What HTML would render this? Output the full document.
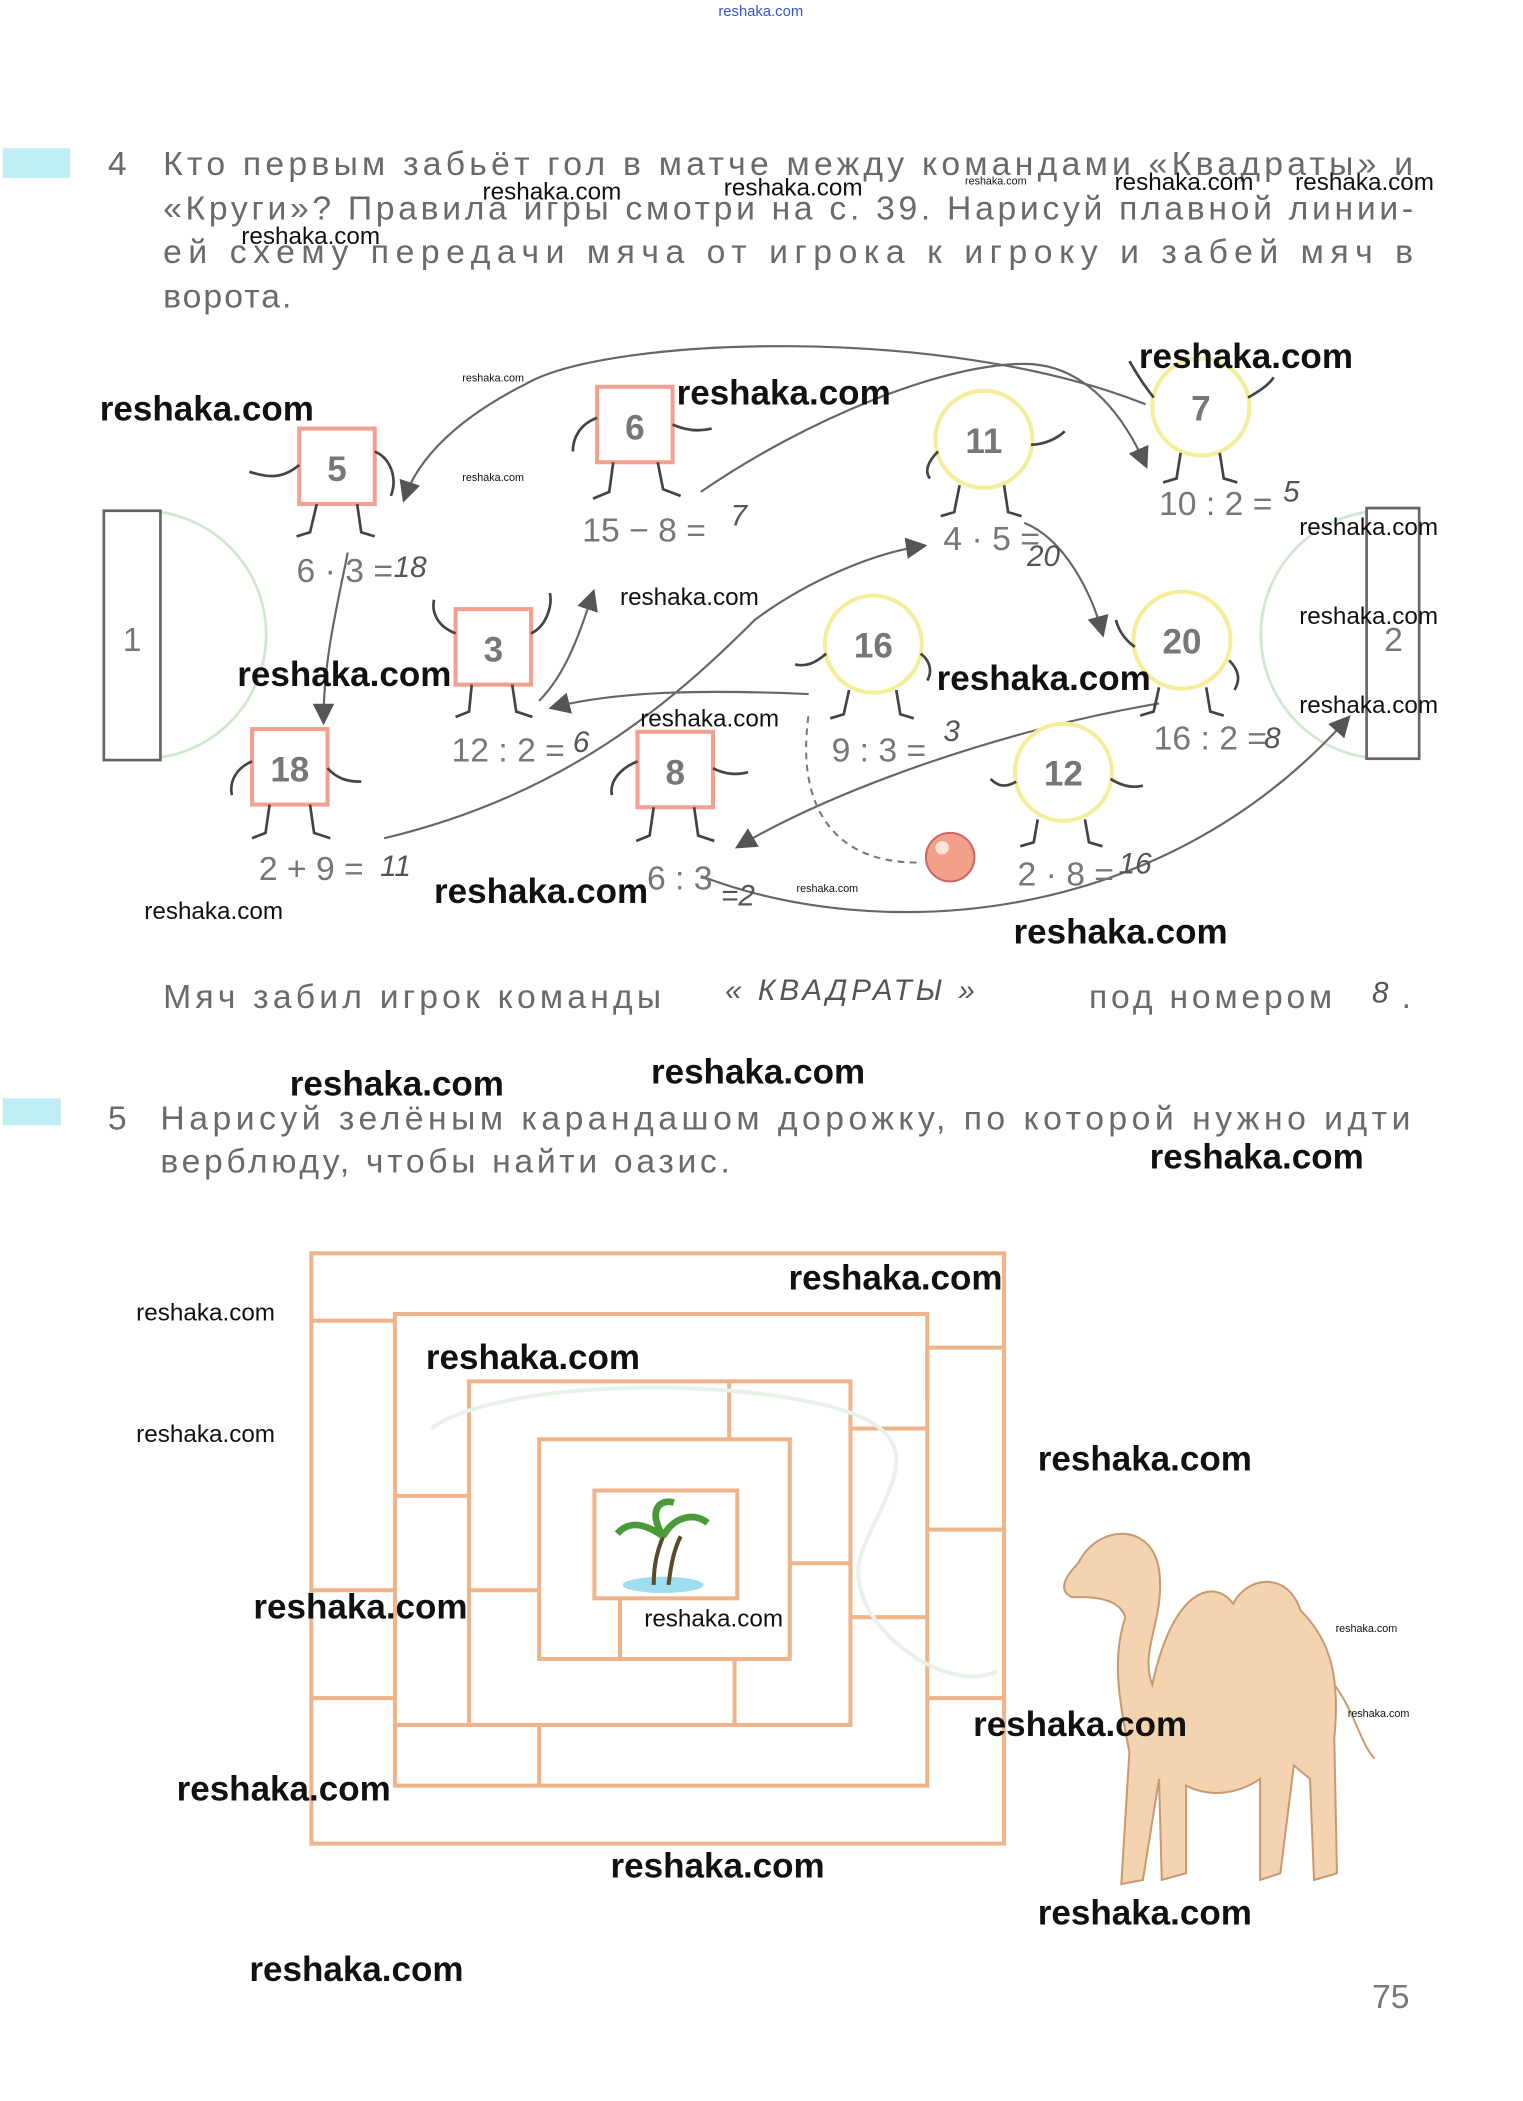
<!DOCTYPE html>
<html><head><meta charset="utf-8"><style>
html,body{margin:0;padding:0;background:#fff;}
svg{display:block;}
.t{font-family:"Liberation Sans",sans-serif;fill:#6a6a6a;font-size:25px;letter-spacing:1.5px;}
.w{font-family:"Liberation Sans",sans-serif;fill:#111;font-weight:bold;font-size:26px;}
.ws{font-family:"Liberation Sans",sans-serif;fill:#111;font-size:18px;}
.wt{font-family:"Liberation Sans",sans-serif;fill:#111;font-size:8px;}
.n{font-family:"Liberation Sans",sans-serif;fill:#777;font-size:26px;font-weight:bold;text-anchor:middle;}
.e{font-family:"Liberation Sans",sans-serif;fill:#777;font-size:25px;}
.h{font-family:"Liberation Sans",sans-serif;fill:#555;font-size:22px;font-style:italic;}
.sq{fill:#fff;stroke:#f2a090;stroke-width:3;}
.ci{fill:#fff;stroke:#f4ee9a;stroke-width:3;}
.a{fill:none;stroke:#666;stroke-width:1.6;}
.leg{fill:none;stroke:#444;stroke-width:2;}
.mz{fill:none;stroke:#f0b48a;stroke-width:3;}
</style></head><body>
<svg width="1523" height="2101" viewBox="0 0 1130 1559" xmlns="http://www.w3.org/2000/svg">
<defs><marker id="ar" markerWidth="10" markerHeight="10" refX="8" refY="5" orient="auto"><path d="M0,0 L10,5 L0,10 z" fill="#555"/></marker></defs>
<text x="533" y="12" font-family="Liberation Sans" font-size="11" fill="#3355cc">reshaka.com</text>
<rect x="2" y="110" width="50" height="22" fill="#bfeff5"/>
<text x="80" y="130" class="t" fill="#9dd">4</text>
<text x="121" y="130" class="t" textLength="929" lengthAdjust="spacing">Кто первым забьёт гол в матче между командами «Квадраты» и</text>
<text x="121" y="163" class="t" textLength="929" lengthAdjust="spacing">«Круги»? Правила игры смотри на с. 39. Нарисуй плавной линии-</text>
<text x="121" y="195" class="t" textLength="929" lengthAdjust="spacing">ей схему передачи мяча от игрока к игроку и забей мяч в</text>
<text x="121" y="228" class="t">ворота.</text>
<!-- goals -->
<path d="M119,380 A92,92 0 0 1 119,562" fill="none" stroke="#cfe8cf" stroke-width="2"/>
<rect x="77" y="379" width="42" height="185" fill="#fff" stroke="#666" stroke-width="2"/>
<text x="98" y="483" class="e" text-anchor="middle">1</text>
<path d="M1014,380 A92,92 0 0 0 1014,562" fill="none" stroke="#cfe8cf" stroke-width="2"/>
<rect x="1014" y="377" width="39" height="186" fill="#fff" stroke="#666" stroke-width="2"/>
<text x="1034" y="483" class="e" text-anchor="middle">2</text>
<!-- arrows -->
<path class="a" d="M520,365 C600,310 700,270 760,270 C800,270 830,300 850,345" marker-end="url(#ar)"/>
<path class="a" d="M850,300 C700,240 450,250 390,285 C340,310 310,340 300,370" marker-end="url(#ar)"/>
<path class="a" d="M258,410 C250,450 240,490 240,535" marker-end="url(#ar)"/>
<path class="a" d="M285,622 C420,590 500,520 560,460 C600,430 650,410 685,405" marker-end="url(#ar)"/>
<path class="a" d="M760,388 C790,400 810,440 818,470" marker-end="url(#ar)"/>
<path class="a" d="M600,515 C530,512 460,512 410,525" marker-end="url(#ar)"/>
<path class="a" d="M400,520 C420,500 430,470 440,440" marker-end="url(#ar)"/>
<path class="a" d="M860,522 C750,540 620,585 548,628" marker-end="url(#ar)"/>
<path class="a" d="M520,650 C650,700 860,690 1000,533" marker-end="url(#ar)"/>
<path d="M680,640 C620,640 590,600 600,530" fill="none" stroke="#777" stroke-width="1.5" stroke-dasharray="5,4"/>
<circle cx="705" cy="636" r="18" fill="#f3a08a" stroke="#c66" stroke-width="1.5"/>
<circle cx="699" cy="629" r="5" fill="#fff" opacity=".7"/>
<!-- squares -->
<g>
<rect class="sq" x="222" y="318" width="56" height="56"/><text x="250" y="357" class="n">5</text>
<path class="leg" d="M222,345 C210,355 200,355 185,350 M278,335 C290,340 295,355 290,368 M235,374 L230,395 L220,398 M265,374 L268,395 L278,398"/>
<text x="220" y="432" class="e">6 · 3 =</text><text x="292" y="428" class="h">18</text>
<rect class="sq" x="443" y="287" width="56" height="56"/><text x="471" y="326" class="n">6</text>
<path class="leg" d="M443,310 C430,315 425,325 425,335 M499,315 C510,320 520,320 528,318 M455,343 L452,365 L440,370 M488,343 L492,363 L505,368"/>
<text x="432" y="402" class="e">15 − 8 =</text><text x="542" y="390" class="h">7</text>
<rect class="sq" x="338" y="452" width="56" height="56"/><text x="366" y="491" class="n">3</text>
<path class="leg" d="M338,470 C325,465 320,455 322,445 M394,470 C405,465 410,450 408,440 M350,508 L348,528 L338,532 M380,508 L383,528 L395,532"/>
<text x="335" y="565" class="e">12 : 2 =</text><text x="425" y="558" class="h">6</text>
<rect class="sq" x="187" y="541" width="56" height="56"/><text x="215" y="580" class="n">18</text>
<path class="leg" d="M187,565 C175,570 170,580 172,590 M243,570 C250,578 258,580 268,580 M200,597 L197,618 L187,622 M230,597 L233,618 L245,622"/>
<text x="192" y="653" class="e">2 + 9 =</text><text x="282" y="650" class="h">11</text>
<rect class="sq" x="473" y="543" width="56" height="56"/><text x="501" y="582" class="n">8</text>
<path class="leg" d="M473,565 C460,570 452,580 454,590 M529,570 C538,575 548,575 555,573 M485,599 L482,620 L472,624 M515,599 L518,620 L530,624"/>
<text x="480" y="660" class="e">6 : 3</text><text x="535" y="672" class="h">=2</text>
</g>
<!-- circles -->
<g>
<circle class="ci" cx="730" cy="326" r="36"/><text x="730" y="336" class="n">11</text>
<path class="leg" d="M696,335 C688,343 686,350 690,355 M765,330 C775,330 785,325 790,320 M712,360 L708,380 L698,383 M745,360 L748,380 L758,383"/>
<text x="700" y="408" class="e">4 · 5 =</text><text x="762" y="420" class="h">20</text>
<circle class="ci" cx="891" cy="302" r="36"/><text x="891" y="312" class="n">7</text>
<path class="leg" d="M856,295 C848,285 842,275 838,268 M926,295 C935,290 942,285 945,280 M876,336 L873,355 L863,358 M905,336 L908,355 L918,358"/>
<text x="860" y="382" class="e">10 : 2 =</text><text x="952" y="372" class="h">5</text>
<circle class="ci" cx="648" cy="478" r="36"/><text x="648" y="488" class="n">16</text>
<path class="leg" d="M613,485 C605,492 598,495 590,493 M683,485 C690,490 692,498 688,505 M630,512 L626,530 L616,533 M665,512 L668,530 L678,533"/>
<text x="617" y="565" class="e">9 : 3 =</text><text x="700" y="550" class="h">3</text>
<circle class="ci" cx="877" cy="475" r="36"/><text x="877" y="485" class="n">20</text>
<path class="leg" d="M842,480 C835,475 830,468 828,460 M912,490 C920,498 920,505 916,512 M860,510 L856,528 L846,531 M895,510 L898,528 L908,531"/>
<text x="856" y="556" class="e">16 : 2 =</text><text x="938" y="555" class="h">8</text>
<circle class="ci" cx="789" cy="573" r="36"/><text x="789" y="583" class="n">12</text>
<path class="leg" d="M754,580 C745,585 740,583 735,578 M824,578 C832,583 840,585 848,583 M770,608 L767,625 L757,628 M805,608 L808,625 L818,628"/>
<text x="755" y="657" class="e">2 · 8 =</text><text x="830" y="648" class="h">16</text>
</g>
<text x="121" y="748" class="t" textLength="371" lengthAdjust="spacing">Мяч забил игрок команды</text>
<text x="538" y="742" class="h" letter-spacing="3">« КВАДРАТЫ »</text>
<text x="808" y="748" class="t" textLength="182" lengthAdjust="spacing">под номером</text>
<text x="1018" y="744" class="h">8</text><text x="1040" y="748" class="t">.</text>
<rect x="2" y="815" width="43" height="20" fill="#bfeff5"/>
<text x="80" y="838" class="t" fill="#9dd">5</text>
<text x="119" y="838" class="t" textLength="929" lengthAdjust="spacing">Нарисуй зелёным карандашом дорожку, по которой нужно идти</text>
<text x="119" y="870" class="t" textLength="424" lengthAdjust="spacing">верблюду, чтобы найти оазис.</text>
<!-- maze -->
<g class="mz">
<rect x="231" y="930" width="514" height="438"/>
<rect x="293" y="975" width="395" height="350"/>
<rect x="348" y="1025" width="283" height="255"/>
<rect x="400" y="1068" width="186" height="163"/>
<rect x="441" y="1106" width="106" height="80"/>
<path d="M231,980 L293,980 M293,1110 L348,1110 M293,1180 L231,1180 M231,1260 L293,1260 M400,1280 L400,1325 M545,1230 L545,1280 M586,1160 L631,1160 M631,1200 L688,1200 M688,1135 L745,1135 M688,1260 L745,1260 M688,1040 L688,1000 L745,1000 M541,1068 L541,1025 M348,1180 L400,1180 M460,1186 L460,1231 M293,1280 L348,1280 M631,1060 L688,1060"/>
</g>
<path d="M320,1060 C360,1030 500,1020 600,1040 C700,1060 660,1100 640,1150 C620,1200 700,1260 740,1240" fill="none" stroke="#e8f2e8" stroke-width="3"/>
<!-- palm -->
<ellipse cx="492" cy="1176" rx="30" ry="6" fill="#9ddff0"/>
<path d="M485,1176 C485,1160 488,1150 492,1140 M496,1176 C498,1160 500,1150 505,1140" stroke="#5a4a2a" stroke-width="3" fill="none"/>
<path d="M492,1140 C475,1128 465,1130 458,1138 M492,1140 C500,1125 515,1122 525,1130 M492,1140 C480,1120 490,1112 500,1115" stroke="#4a9a3a" stroke-width="5" fill="none"/>
<!-- camel -->
<g fill="#f4d4b0" stroke="#c89a70" stroke-width="1.5">
<path d="M800,1160 C815,1130 855,1130 860,1165 C865,1200 845,1225 855,1250 C870,1180 900,1170 915,1190 C925,1170 955,1165 965,1195 C985,1215 995,1240 990,1290 L992,1390 L975,1395 L972,1320 L960,1310 L950,1390 L935,1395 L935,1320 C920,1330 900,1335 880,1325 L880,1390 L862,1395 L860,1320 L848,1395 L832,1398 L838,1300 C830,1260 825,1230 835,1200 C830,1185 810,1185 795,1185 C785,1180 790,1170 800,1160 z"/>
<path d="M990,1250 C1005,1270 1010,1295 1020,1305" fill="none"/>
</g>
<text x="1018" y="1490" class="e" fill="#999">75</text>
<!-- watermarks -->
<g>
<text x="74" y="312" class="w">reshaka.com</text>
<text x="502" y="300" class="w">reshaka.com</text>
<text x="845" y="273" class="w">reshaka.com</text>
<text x="176" y="509" class="w">reshaka.com</text>
<text x="695" y="512" class="w">reshaka.com</text>
<text x="322" y="670" class="w">reshaka.com</text>
<text x="752" y="700" class="w">reshaka.com</text>
<text x="215" y="813" class="w">reshaka.com</text>
<text x="483" y="804" class="w">reshaka.com</text>
<text x="853" y="867" class="w">reshaka.com</text>
<text x="585" y="957" class="w">reshaka.com</text>
<text x="316" y="1016" class="w">reshaka.com</text>
<text x="770" y="1091" class="w">reshaka.com</text>
<text x="188" y="1201" class="w">reshaka.com</text>
<text x="722" y="1288" class="w">reshaka.com</text>
<text x="131" y="1336" class="w">reshaka.com</text>
<text x="453" y="1393" class="w">reshaka.com</text>
<text x="770" y="1428" class="w">reshaka.com</text>
<text x="185" y="1470" class="w">reshaka.com</text>
<text x="358" y="148" class="ws">reshaka.com</text>
<text x="537" y="145" class="ws">reshaka.com</text>
<text x="179" y="181" class="ws">reshaka.com</text>
<text x="460" y="449" class="ws">reshaka.com</text>
<text x="475" y="539" class="ws">reshaka.com</text>
<text x="107" y="682" class="ws">reshaka.com</text>
<text x="101" y="980" class="ws">reshaka.com</text>
<text x="101" y="1070" class="ws">reshaka.com</text>
<text x="478" y="1207" class="ws">reshaka.com</text>
<text x="827" y="141" class="ws" font-size="14">reshaka.com</text>
<text x="961" y="141" class="ws" font-size="14">reshaka.com</text>
<text x="964" y="397" class="ws" font-size="14">reshaka.com</text>
<text x="964" y="463" class="ws" font-size="14">reshaka.com</text>
<text x="964" y="529" class="ws" font-size="14">reshaka.com</text>
<text x="716" y="137" class="wt">reshaka.com</text>
<text x="343" y="283" class="wt">reshaka.com</text>
<text x="343" y="357" class="wt">reshaka.com</text>
<text x="591" y="662" class="wt">reshaka.com</text>
<text x="991" y="1211" class="wt">reshaka.com</text>
<text x="1000" y="1274" class="wt">reshaka.com</text>
</g>
</svg>
</body></html>
